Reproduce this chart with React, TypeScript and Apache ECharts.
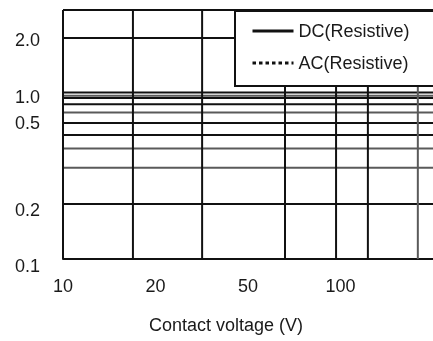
import React, { useEffect, useRef } from "react";
import * as echarts from "echarts";

// Axis tick labels (positions on a 0-100 frame scale)
const X_LABEL_POS = [0, 25, 50, 75];
const X_LABELS = ["10", "20", "50", "100"];
const Y_LABEL_POS = [87.9, 65.1, 54.6, 19.5, -2.6];
const Y_LABELS = ["2.0", "1.0", "0.5", "0.2", "0.1"];

// Grid lines of the chart frame
const H_LINES = [100, 88.8, 66.9, 65.6, 64.7, 62.2, 58.8, 54.6, 49.8, 44.4, 36.7, 22.1];
const H_SHADES = [0, 0, 0, 1, 0, 0, 1, 0, 0, 1, 1, 0];
const V_LINES = [0, 18.9, 37.6, 60.0, 73.8, 82.4, 95.9];
const V_SHADES = [0, 0, 0, 0, 0, 0, 1];

// Legend series
const SERIES_NAMES = ["DC(Resistive)", "AC(Resistive)"];
const DC_VALUES: number[][] = [];
const AC_VALUES: number[][] = [];

const FONT = "'Liberation Sans', Arial, sans-serif";
const SHADE_COLORS = ["#111111", "#5a5a5a"];

export default function App() {
  const ref = useRef<HTMLDivElement>(null);
  useEffect(() => {
    if (!ref.current) return;
    const chart = echarts.init(ref.current, undefined, { renderer: "svg" });
    const labelFor = (pos: number[], labels: string[]) => (v: number) => {
      const i = pos.findIndex((p) => Math.abs(p - v) < 0.01);
      return i >= 0 ? labels[i] : "";
    };
    chart.setOption({
      animation: false,
      grid: { left: 63, right: 0, top: 10, bottom: 72 },
      xAxis: {
        type: "value",
        min: 0,
        max: 100,
        axisLine: { show: true, onZero: true, lineStyle: { color: "#111", width: 2 } },
        axisTick: { show: false },
        splitLine: { show: false },
        axisLabel: {
          customValues: X_LABEL_POS,
          formatter: labelFor(X_LABEL_POS, X_LABELS),
          margin: 8,
          color: "#1a1a1a",
          fontSize: 18,
          fontFamily: FONT,
          showMinLabel: true,
          showMaxLabel: true,
        },
      },
      yAxis: {
        type: "value",
        min: -4,
        max: 100,
        axisLine: { show: false },
        axisTick: { show: false },
        splitLine: { show: false },
        axisLabel: {
          customValues: Y_LABEL_POS,
          formatter: labelFor(Y_LABEL_POS, Y_LABELS),
          margin: 23,
          color: "#1a1a1a",
          fontSize: 18,
          fontFamily: FONT,
          showMinLabel: true,
          showMaxLabel: true,
        },
      },
      legend: {
        orient: "vertical",
        left: 251,
        top: 22,
        padding: 0,
        itemWidth: 41,
        itemHeight: 14,
        itemGap: 14,
        z: 20,
        itemStyle: { opacity: 0 },
        lineStyle: { width: 3 },
        textStyle: { fontSize: 18, fontFamily: FONT, color: "#1a1a1a" },
        data: SERIES_NAMES,
      },
      graphic: [
        {
          type: "rect",
          left: 234,
          top: 10,
          z: 10,
          shape: { width: 230, height: 75 },
          style: { fill: "#ffffff", stroke: "#111111", lineWidth: 2 },
        },
      ],
      title: {
        text: "Contact voltage (V)",
        left: 149,
        top: 316,
        padding: 0,
        textStyle: { fontSize: 18, fontWeight: "normal", fontFamily: FONT, color: "#1a1a1a" },
      },
      series: [
        {
          type: "custom",
          clip: false,
          silent: true,
          data: H_LINES.map((v, i) => [v, H_SHADES[i]]),
          renderItem: (_p: any, api: any) => {
            const y = api.value(0);
            const s = api.value(1);
            const a = api.coord([0, y]);
            const b = api.coord([100, y]);
            return {
              type: "line",
              shape: { x1: a[0], y1: a[1], x2: b[0], y2: b[1] },
              style: { stroke: SHADE_COLORS[s], lineWidth: 2 },
            };
          },
        },
        {
          type: "custom",
          clip: false,
          silent: true,
          data: V_LINES.map((v, i) => [v, V_SHADES[i]]),
          renderItem: (_p: any, api: any) => {
            const x = api.value(0);
            const s = api.value(1);
            const a = api.coord([x, 0]);
            const b = api.coord([x, 100]);
            return {
              type: "line",
              shape: { x1: a[0], y1: a[1], x2: b[0], y2: b[1] },
              style: { stroke: SHADE_COLORS[s], lineWidth: 2 },
            };
          },
        },
        {
          name: SERIES_NAMES[0],
          type: "line",
          symbol: "none",
          data: DC_VALUES,
          color: "#111111",
          lineStyle: { color: "#111111", width: 3, type: "solid" },
        },
        {
          name: SERIES_NAMES[1],
          type: "line",
          symbol: "none",
          data: AC_VALUES,
          color: "#111111",
          lineStyle: { color: "#111111", width: 3, type: [3.5, 3] },
        },
      ],
    });
    return () => chart.dispose();
  }, []);
  return (
    <div
      ref={ref}
      style={{ position: "fixed", left: 0, top: 0, width: 433, height: 341 }}
    />
  );
}
